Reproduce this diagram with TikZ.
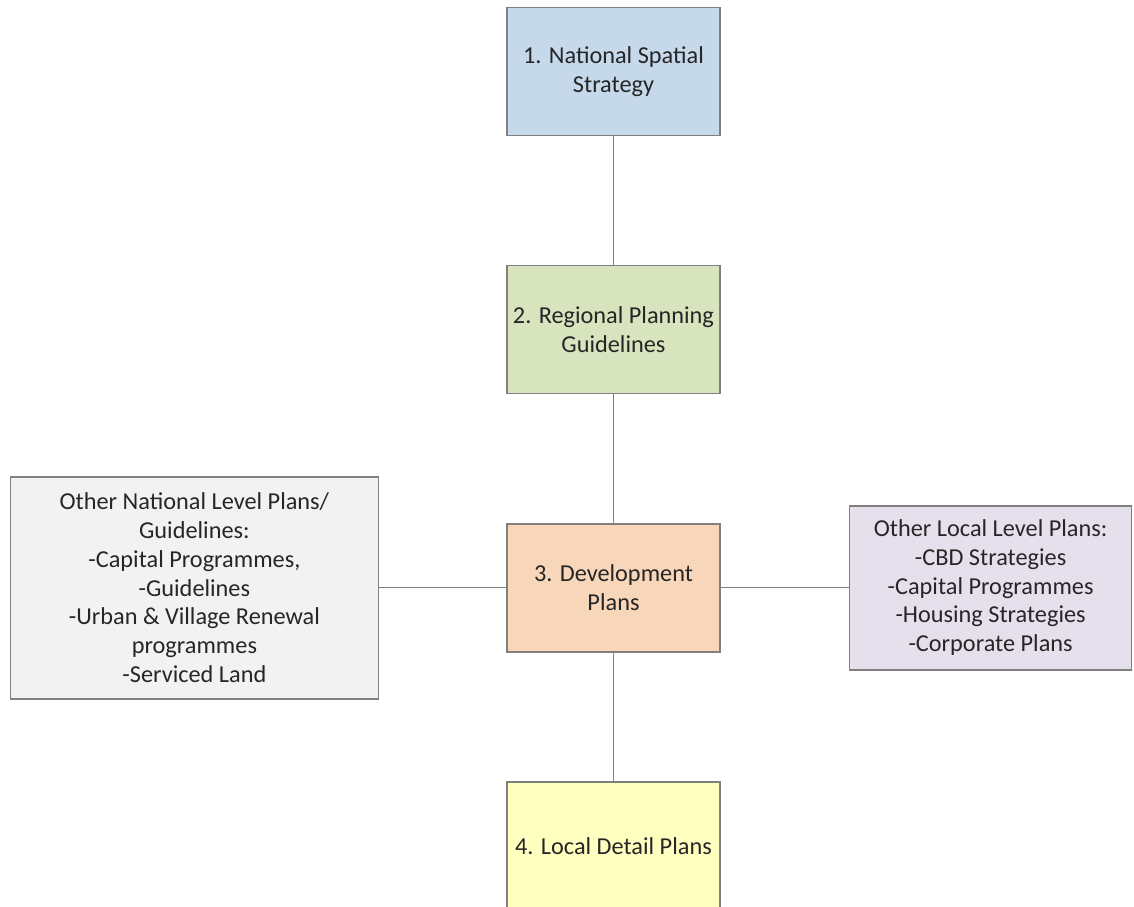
\documentclass[tikz,border=0pt]{standalone}
\usepackage{fontspec}
\setmainfont{Carlito}
\usepackage{tikz}
\usetikzlibrary{positioning}

\definecolor{nssblue}{RGB}{198,217,235}
\definecolor{rpggreen}{RGB}{215,228,189}
\definecolor{devpeach}{RGB}{248,214,186}
\definecolor{ldpyellow}{RGB}{255,255,192}
\definecolor{natgray}{RGB}{242,242,242}
\definecolor{loclav}{RGB}{230,224,236}
\definecolor{edgegray}{RGB}{128,128,128}

\begin{document}
\begin{tikzpicture}
		[plan/.style={rectangle, draw=edgegray, line width=1.6pt, align=center,
			text=black!85, minimum width=213pt, minimum height=128pt,
			font=\fontsize{24.3}{28.8}\selectfont, node distance=128.5pt},
		link/.style={draw=edgegray, line width=1.4pt}]
		\useasboundingbox (0,0) rectangle (1134pt,-906pt);
		\node[plan, fill=nssblue] (nss) at (613.5pt,-71.5pt) {1. National Spatial\\Strategy};
		\node[plan, fill=rpggreen, below=of nss] (rpg) {2. Regional Planning\\Guidelines};
		\node[plan, fill=devpeach, below=of rpg] (dev) {3. Development\\Plans};
		\node[plan, fill=ldpyellow, below=of dev] (ldp) {4. Local Detail Plans};
		\node[plan, fill=natgray, left=127pt of dev, minimum width=368pt, minimum height=222pt] (nat)
			{Other National Level Plans/\\Guidelines:\\-Capital Programmes,\\-Guidelines\\-Urban \& Village Renewal\\programmes\\-Serviced Land};
		\node[plan, fill=loclav, right=128pt of dev, minimum width=282pt, minimum height=164pt] (loc)
			{Other Local Level Plans:\\-CBD Strategies\\-Capital Programmes\\-Housing Strategies\\-Corporate Plans};
		\draw[link] (nss) -- (rpg);
		\draw[link] (rpg) -- (dev);
		\draw[link] (dev) -- (ldp);
		\draw[link] (nat) -- (dev);
		\draw[link] (dev) -- (loc);
	\end{tikzpicture}
\end{document}
